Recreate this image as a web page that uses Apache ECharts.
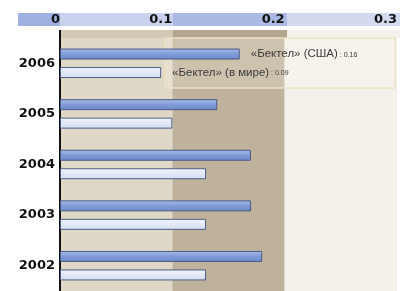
<!DOCTYPE html>
<html>
<head>
<meta charset="utf-8">
<script src="https://cdn.jsdelivr.net/npm/echarts@6/dist/echarts.min.js"></script>
<style>
  html, body { margin: 0; padding: 0; background: #fff; }
  #main { width: 400px; height: 291px; }
</style>
</head>
<body>
<div id="main"></div>
<script>
// данные
var years = ['2006', '2005', '2004', '2003', '2002']
var usaValues = [0.16, 0.14, 0.17, 0.17, 0.18]
var worldValues = [0.09, 0.10, 0.13, 0.13, 0.13]
var xTicks = [0, 0.1, 0.2, 0.3]
var usaName = '«Бектел» (США)'
var worldName = '«Бектел» (в мире)'

var chart = echarts.init(document.getElementById('main'))

// подпись только у первого года
function withLabel(arr) {
  return arr.map(function (v, i) {
    return i === 0 ? { value: v, label: { show: true } } : v
  })
}

var labelRich = {
  n: { fontSize: 11.5, color: '#3a3a3a', fontFamily: 'Arial, Liberation Sans' },
  v: { fontSize: 7, color: '#3a3a3a', fontFamily: 'Arial, Liberation Sans', padding: [2, 0, 0, 0] }
}

chart.setOption({
  animation: false,
  backgroundColor: '#ffffff',
  grid: { left: 60, right: 0, top: 38, bottom: -1 },
  graphic: [
    // синяя полоса шкалы
    { type: 'rect', shape: { x: 18, y: 13, width: 42, height: 13 }, style: { fill: '#9db0df' }, z: 0 },
    { type: 'rect', shape: { x: 60, y: 13, width: 113, height: 13 }, style: { fill: '#c9d1ec' }, z: 0 },
    { type: 'rect', shape: { x: 173, y: 13, width: 114, height: 13 }, style: { fill: '#aabae2' }, z: 0 },
    { type: 'rect', shape: { x: 287, y: 13, width: 113, height: 13 }, style: { fill: '#d3d9ef' }, z: 0 },
    // верхняя кромка поля
    { type: 'rect', shape: { x: 60, y: 30, width: 113, height: 8 }, style: { fill: '#d3c8b3' }, z: 0 },
    { type: 'rect', shape: { x: 173, y: 30, width: 114, height: 8 }, style: { fill: '#b4a68e' }, z: 0 },
    { type: 'rect', shape: { x: 287, y: 30, width: 113, height: 8 }, style: { fill: '#f4f1eb' }, z: 0 },
    // рамка подписей
    {
      type: 'rect', shape: { x: 165, y: 38, width: 230, height: 50 },
      style: { fill: 'rgba(255,252,240,0.22)', stroke: '#ece2c2', lineWidth: 1.5 }, z: 5
    },
    { type: 'line', shape: { x1: 60, y1: 30, x2: 60, y2: 40 }, style: { stroke: '#111', lineWidth: 2 }, z: 6 }
  ],
  xAxis: {
    type: 'value',
    position: 'top',
    min: xTicks[0],
    max: xTicks[xTicks.length - 1],
    interval: 0.1,
    axisLine: { show: false },
    axisTick: { show: false },
    splitLine: { show: false },
    splitArea: { show: true, areaStyle: { color: ['#e0d8c7', '#bfb29c', '#f4f1eb'] } },
    axisLabel: {
      align: 'right',
      margin: 12,
      fontSize: 13,
      fontWeight: 'bold',
      color: '#111',
      fontFamily: 'DejaVu Sans',
      formatter: function (v) { return String(Math.round(v * 10) / 10) }
    }
  },
  yAxis: {
    type: 'category',
    data: years,
    inverse: true,
    axisLine: { show: true, lineStyle: { color: '#111', width: 2 } },
    axisTick: { show: false },
    axisLabel: {
      margin: 5,
      fontSize: 13,
      fontWeight: 'bold',
      color: '#111',
      fontFamily: 'DejaVu Sans',
      padding: [0, 0, 19, 0]
    }
  },
  series: [{
    name: usaName,
    type: 'bar',
    barWidth: 11,
    barGap: '68%',
    data: withLabel(usaValues),
    itemStyle: {
      color: new echarts.graphic.LinearGradient(0, 0, 0, 1, [
        { offset: 0, color: '#a9bdea' },
        { offset: 0.5, color: '#7f9bd8' },
        { offset: 1, color: '#6c88c9' }
      ]),
      borderColor: '#4a5c84',
      borderWidth: 1
    },
    label: {
      show: false,
      position: 'right',
      distance: 11,
      formatter: function (p) { return '{n|' + usaName + '}{v| : ' + p.value.toFixed(2) + '}' },
      rich: labelRich
    },
    z: 10
  }, {
    name: worldName,
    type: 'bar',
    barWidth: 11,
    data: withLabel(worldValues),
    itemStyle: {
      color: new echarts.graphic.LinearGradient(0, 0, 0, 1, [
        { offset: 0, color: '#f1f4fb' },
        { offset: 1, color: '#d3ddf1' }
      ]),
      borderColor: '#4d5f86',
      borderWidth: 1
    },
    label: {
      show: false,
      position: 'right',
      distance: 11,
      formatter: function (p) { return '{n|' + worldName + '}{v| : ' + p.value.toFixed(2) + '}' },
      rich: labelRich
    },
    z: 10
  }]
})

window.addEventListener('resize', function () {
  chart.resize()
})
</script>
</body>
</html>
